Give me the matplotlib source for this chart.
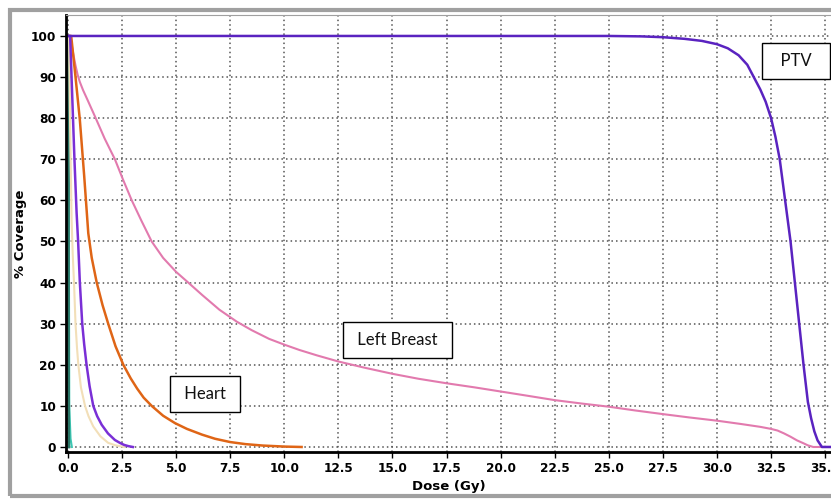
import matplotlib
matplotlib.use("Agg")
from matplotlib import pyplot as plt
from matplotlib.patches import Rectangle

# DVH curves (dose in Gy, % coverage)
ptv_dose = [0, 25, 26.5, 27.5, 28.5, 29.3, 30, 30.5, 31, 31.4, 31.7, 32, 32.25, 32.5,
            32.7, 32.9, 33.15, 33.4, 33.6, 33.8, 34.0, 34.2, 34.35, 34.5, 34.65, 34.85, 35.3]
ptv_cov = [100, 100, 99.9, 99.7, 99.3, 98.8, 98.0, 97.0, 95.3, 93, 90, 87, 84, 80,
           75.5, 70, 60, 50, 40, 30, 20, 11, 7, 3.8, 1.6, 0, 0]

breast_dose = [0.0, 0.09, 0.15, 0.25, 0.35, 0.45, 0.55, 0.7, 0.9, 1.25, 1.7, 2.17, 2.55,
               2.95, 3.4, 3.87, 4.4, 5.0, 5.56, 6.2, 7.0, 7.8, 8.5, 9.3, 10.0, 10.7, 11.5,
               12.5, 13.7, 15.0, 16.2, 17.5, 18.8, 20.0, 21.2, 22.5, 23.7, 25.0, 26.2,
               27.5, 28.7, 30.0, 31.1, 32.0, 32.5, 32.8, 33.1, 33.4, 33.7, 34.0, 34.2,
               34.45, 35.3]
breast_cov = [100, 100, 98.5, 95.5, 92.8, 90.5, 88.8, 86.8, 84.5, 80.4, 75, 70, 65, 60,
              55, 50, 46, 42.6, 40, 37, 33.4, 30.5, 28.4, 26.3, 24.9, 23.6, 22.3, 20.8,
              19.3, 17.8, 16.6, 15.5, 14.5, 13.5, 12.5, 11.4, 10.6, 9.8, 8.9, 8.0, 7.2,
              6.4, 5.6, 4.9, 4.4, 4.0, 3.3, 2.5, 1.6, 0.9, 0.4, 0, 0]

heart_dose = [0, 0.15, 0.35, 0.55, 0.75, 0.94, 1.1, 1.33, 1.6, 1.86, 2.2, 2.56, 2.9, 3.2,
              3.5, 3.87, 4.4, 4.95, 5.5, 6.2, 6.8, 7.5, 8.2, 9.0, 10.0, 10.8]
heart_cov = [100, 100, 90, 79.6, 66, 52, 46, 40, 34.5, 30, 24.5, 20, 16.7, 14.2, 12, 10,
             7.6, 5.8, 4.4, 3.0, 2.0, 1.2, 0.7, 0.35, 0.1, 0]

lung_dose = [0, 0.1, 0.2, 0.3, 0.4, 0.47, 0.55, 0.66, 0.75, 0.86, 1.0, 1.17, 1.35, 1.56,
             1.85, 2.17, 2.4, 2.6, 2.8, 3.0]
lung_cov = [100, 100, 85, 70, 57, 50, 40, 30, 25, 20, 14.8, 10, 7.5, 5.4, 3.3, 1.7, 1.0,
            0.5, 0.2, 0]

beige_dose = [0, 0.05, 0.1, 0.17, 0.22, 0.28, 0.35, 0.42, 0.48, 0.6, 0.79, 0.95, 1.17,
              1.5, 1.86, 2.2, 2.6]
beige_cov = [100, 100, 78, 55, 47, 40, 30, 24, 20, 14.5, 10, 7.5, 5, 2.6, 1, 0.4, 0]

cyan_dose = [0, 0.02, 0.06, 0.12, 0.18]
cyan_cov = [100, 100, 10, 2, 0]

teal_dose = [0, 0.015, 0.025, 0.04]
teal_cov = [100, 100, 20, 0]

xticks = [0.0, 2.5, 5.0, 7.5, 10.0, 12.5, 15.0, 17.5, 20.0, 22.5, 25.0, 27.5, 30.0, 32.5, 35.0]
yticks = [0, 10, 20, 30, 40, 50, 60, 70, 80, 90, 100]

fig = plt.figure(figsize=(8.31, 5.0), dpi=100)
fig.patch.set_facecolor('white')

# grey panel frame
fig.patches.append(Rectangle((10 / 831, 4 / 500), 830 / 831, 486 / 500,
                             transform=fig.transFigure, fill=False,
                             edgecolor='#a0a0a0', linewidth=3))

ax = fig.add_axes([66 / 831, 48 / 500, 1 - 66 / 831, 437 / 500])
ax.set_xlim(-0.09, 35.27)
ax.set_ylim(-1.22, 105.1)

ax.set_xticks(xticks)
ax.set_yticks(yticks)
ax.set_xticklabels(['%.1f' % t for t in xticks])
ax.grid(True, color='#555555', linestyle=(0, (1, 2)), linewidth=1.1)

ax.plot(cyan_dose, cyan_cov, color='#3cc8b4', lw=1.5)
ax.plot(teal_dose, teal_cov, color='#2a7566', lw=2)
ax.plot(beige_dose, beige_cov, color='#f2dfb8', lw=1.5)
ax.plot(breast_dose, breast_cov, color='#e27aae', lw=1.5)
ax.plot(heart_dose, heart_cov, color='#df6516', lw=1.8)
ax.plot(lung_dose, lung_cov, color='#7a2fd6', lw=1.8)
ax.plot(ptv_dose, ptv_cov, color='#5a23c0', lw=1.8)

box = dict(boxstyle='square,pad=0.6', facecolor='white', edgecolor='black', linewidth=1)
ax.text(33.65, 94.0, '  PTV  ', ha='center', va='center', fontsize=12,
        family='Lato', color='#111111', bbox=box)
ax.text(15.25, 26.0, ' Left Breast ', ha='center', va='center', fontsize=12,
        family='Lato', color='#111111', bbox=box)
ax.text(6.35, 13.0, ' Heart ', ha='center', va='center', fontsize=12,
        family='Lato', color='#111111', bbox=box)

for s in ['left', 'bottom']:
    ax.spines[s].set_linewidth(2)
    ax.spines[s].set_color('black')
ax.spines['top'].set_color('#a0a0a0')
ax.spines['right'].set_visible(False)

ax.tick_params(axis='both', direction='out', length=4, width=1, labelsize=8.7, pad=3)
for lab in ax.get_xticklabels() + ax.get_yticklabels():
    lab.set_fontweight('bold')

ax.set_xlabel('Dose (Gy)', fontsize=9.5, fontweight='bold', labelpad=4)
ax.set_ylabel('% Coverage', fontsize=9.5, fontweight='bold', labelpad=3)

fig.savefig('out.png', dpi=100)
